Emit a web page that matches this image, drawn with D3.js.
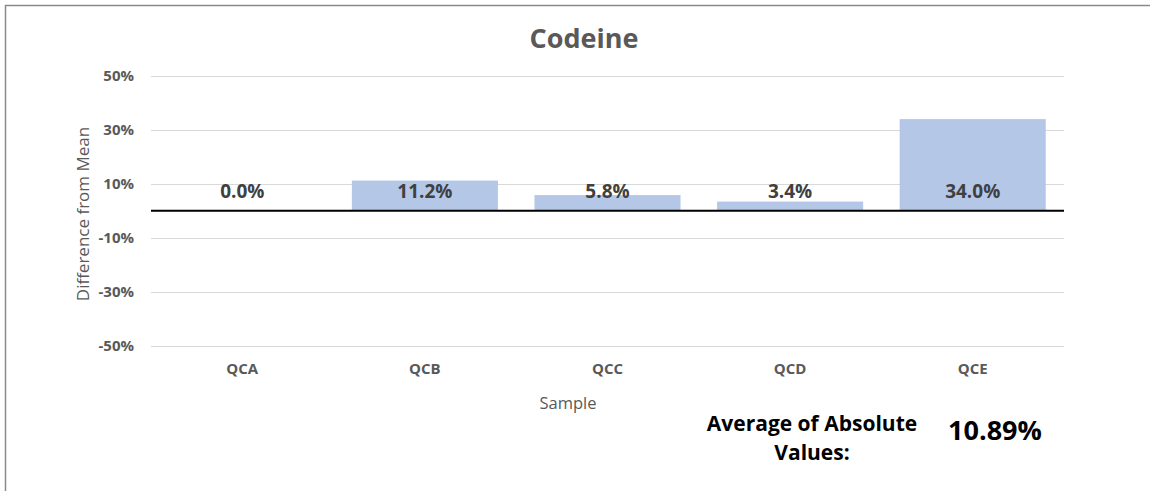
<!DOCTYPE html>
<html>
<head>
<meta charset="utf-8">
<script src="https://cdn.jsdelivr.net/npm/d3@7"></script>
<style>
  body { margin: 0; background: #fff; }
  svg { display: block; font-family: "Open Sans", sans-serif; }
</style>
</head>
<body>
<div id="chart"></div>
<script>
// Chart data
var samples = ["QCA", "QCB", "QCC", "QCD", "QCE"];
var diffValues = [0.0, 11.2, 5.8, 3.4, 34.0];
var yTicks = [-50, -30, -10, 10, 30, 50];
var averageText = "10.89%";

// SVG area
var svgWidth = 1150;
var svgHeight = 491;

var margin = { top: 76, right: 86, bottom: 145.5, left: 151 };
var width = svgWidth - margin.left - margin.right;
var height = svgHeight - margin.top - margin.bottom;

var svg = d3.select("#chart")
  .append("svg")
  .attr("width", svgWidth)
  .attr("height", svgHeight);

// Outer border (only left and top visible)
svg.append("rect")
  .attr("x", 5.5)
  .attr("y", 5.5)
  .attr("width", svgWidth + 20)
  .attr("height", svgHeight + 20)
  .attr("fill", "none")
  .attr("stroke", "#8a8a8a")
  .attr("stroke-width", 1.5);

var chartGroup = svg.append("g")
  .attr("transform", `translate(${margin.left}, ${margin.top})`);

// Scales
var xScale = d3.scaleBand()
  .domain(samples)
  .range([0, width])
  .paddingInner(0.2)
  .paddingOuter(0.1);

var yScale = d3.scaleLinear()
  .domain([-50, 50])
  .range([height, 0]);

// Gridlines
chartGroup.append("g")
  .selectAll("line")
  .data(yTicks)
  .enter()
  .append("line")
  .attr("x1", 0)
  .attr("x2", width)
  .attr("y1", d => Math.round(yScale(d)) + 0.5)
  .attr("y2", d => Math.round(yScale(d)) + 0.5)
  .attr("stroke", "#d9d9d9")
  .attr("stroke-width", 1);

// Y axis labels
var leftAxis = d3.axisLeft(yScale)
  .tickValues(yTicks)
  .tickFormat(d => d + "%")
  .tickSize(0)
  .tickPadding(17);

var yAxisG = chartGroup.append("g").call(leftAxis);
yAxisG.select(".domain").remove();
yAxisG.selectAll("text")
  .attr("fill", "#595959")
  .style("font-size", "15px")
  .style("font-weight", "bold")
  .style("font-family", "'Open Sans', sans-serif");

// Bars
chartGroup.selectAll("rect.bar")
  .data(diffValues)
  .enter()
  .append("rect")
  .attr("class", "bar")
  .attr("x", (d, i) => xScale(samples[i]))
  .attr("y", d => yScale(Math.max(0, d)))
  .attr("width", xScale.bandwidth())
  .attr("height", d => Math.abs(yScale(d) - yScale(0)))
  .attr("fill", "#b4c7e7");

// Zero line
chartGroup.append("line")
  .attr("x1", 0)
  .attr("x2", width)
  .attr("y1", yScale(0))
  .attr("y2", yScale(0))
  .attr("stroke", "#000")
  .attr("stroke-width", 2);

// Data labels (inside base)
chartGroup.selectAll("text.label")
  .data(diffValues)
  .enter()
  .append("text")
  .attr("class", "label")
  .attr("x", (d, i) => xScale(samples[i]) + xScale.bandwidth() / 2)
  .attr("y", yScale(0) - 13)
  .attr("text-anchor", "middle")
  .attr("fill", "#404040")
  .style("font-size", "19px")
  .style("font-weight", "bold")
  .text(d => d.toFixed(1) + "%");

// X axis labels
chartGroup.selectAll("text.xlab")
  .data(samples)
  .enter()
  .append("text")
  .attr("class", "xlab")
  .attr("x", d => xScale(d) + xScale.bandwidth() / 2)
  .attr("y", height + 28)
  .attr("text-anchor", "middle")
  .attr("fill", "#595959")
  .style("font-size", "15px")
  .style("font-weight", "bold")
  .text(d => d);

// Title
svg.append("text")
  .attr("x", 584)
  .attr("y", 48)
  .attr("text-anchor", "middle")
  .attr("fill", "#595959")
  .style("font-size", "27px")
  .style("font-weight", "bold")
  .text("Codeine");

// Axis titles
svg.append("text")
  .attr("transform", "translate(89, 214) rotate(-90)")
  .attr("text-anchor", "middle")
  .attr("fill", "#595959")
  .style("font-size", "17px")
  .text("Difference from Mean");

svg.append("text")
  .attr("x", 568)
  .attr("y", 409)
  .attr("text-anchor", "middle")
  .attr("fill", "#595959")
  .style("font-size", "16.5px")
  .text("Sample");

// Average of absolute values note
var note = svg.append("text")
  .attr("text-anchor", "middle")
  .attr("fill", "#000")
  .style("font-size", "21px")
  .style("font-weight", "bold");

note.append("tspan").attr("x", 812).attr("y", 431).text("Average of Absolute");
note.append("tspan").attr("x", 812).attr("y", 460).text("Values:");

svg.append("text")
  .attr("x", 995)
  .attr("y", 440)
  .attr("text-anchor", "middle")
  .attr("fill", "#000")
  .style("font-size", "27px")
  .style("font-weight", "bold")
  .text(averageText);
</script>
</body>
</html>
